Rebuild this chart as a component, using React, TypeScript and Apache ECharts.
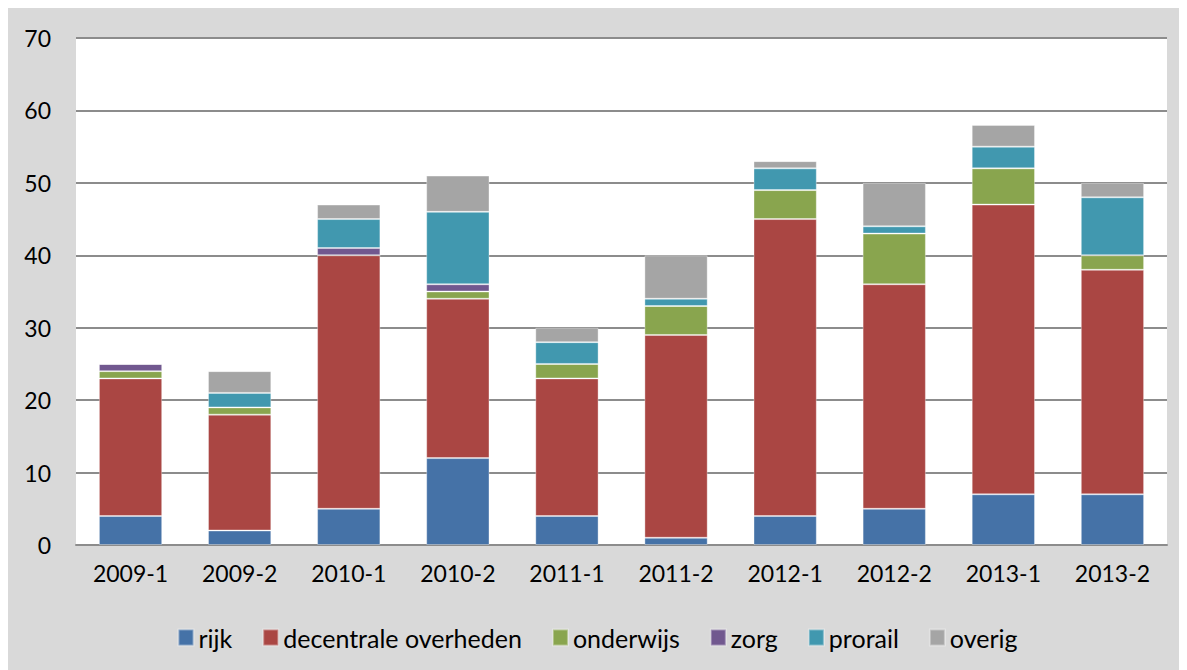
import React, { useEffect, useRef } from "react";
import * as echarts from "echarts";

const categories = ["2009-1", "2009-2", "2010-1", "2010-2", "2011-1", "2011-2", "2012-1", "2012-2", "2013-1", "2013-2"];
const rijk = [4, 2, 5, 12, 4, 1, 4, 5, 7, 7];
const decentrale = [19, 16, 35, 22, 19, 28, 41, 31, 40, 31];
const onderwijs = [1, 1, 0, 1, 2, 4, 4, 7, 5, 2];
const zorg = [1, 0, 1, 1, 0, 0, 0, 0, 0, 0];
const prorail = [0, 2, 4, 10, 3, 1, 3, 1, 3, 8];
const overig = [0, 3, 2, 5, 2, 6, 1, 6, 3, 2];
const yTicks = [0, 10, 20, 30, 40, 50, 60, 70];

const seriesDefs = [
  { name: "rijk", data: rijk, color: "#4572A7" },
  { name: "decentrale overheden", data: decentrale, color: "#AA4643" },
  { name: "onderwijs", data: onderwijs, color: "#89A54E" },
  { name: "zorg", data: zorg, color: "#71588F" },
  { name: "prorail", data: prorail, color: "#4198AF" },
  { name: "overig", data: overig, color: "#A5A5A5" },
];

const FONT = "Lato, 'Open Sans', sans-serif";

export default function App() {
  const ref = useRef<HTMLDivElement>(null);
  useEffect(() => {
    document.body.style.overflow = "hidden";
    const chart = echarts.init(ref.current!, null, { renderer: "svg" });
    chart.setOption({
      animation: false,
      backgroundColor: "#D9D9D9",
      textStyle: { fontFamily: FONT },
      grid: {
        left: 68,
        right: 20,
        top: 30,
        bottom: 125,
        show: true,
        backgroundColor: "#FFFFFF",
        borderWidth: 0,
      },
      legend: {
        top: 612,
        left: "center",
        itemWidth: 15,
        itemHeight: 16,
        itemGap: 30,
        icon: "rect",
        textStyle: { fontSize: 25, color: "#000", fontFamily: FONT },
        data: seriesDefs.map((s) => s.name),
      },
      xAxis: {
        type: "category",
        data: categories,
        axisLine: { show: true, lineStyle: { color: "#8C8C8C", width: 2 } },
        axisTick: { show: false },
        axisLabel: { fontSize: 23, color: "#000", margin: 16, fontFamily: FONT },
      },
      yAxis: {
        type: "value",
        min: yTicks[0],
        max: yTicks[yTicks.length - 1],
        interval: 10,
        axisLine: { show: false },
        axisTick: { show: false },
        axisLabel: { fontSize: 23, color: "#000", margin: 25, fontFamily: FONT },
        splitLine: { lineStyle: { color: "#8C8C8C", width: 2 } },
      },
      series: seriesDefs.map((s) => ({
        name: s.name,
        type: "bar",
        stack: "total",
        data: s.data,
        barWidth: "58%",
        itemStyle: { color: s.color, borderColor: "rgba(255,255,255,0.35)", borderWidth: 1 },
      })),
    });
    return () => chart.dispose();
  }, []);
  return <div ref={ref} style={{ width: 1179, height: 662 }} />;
}
